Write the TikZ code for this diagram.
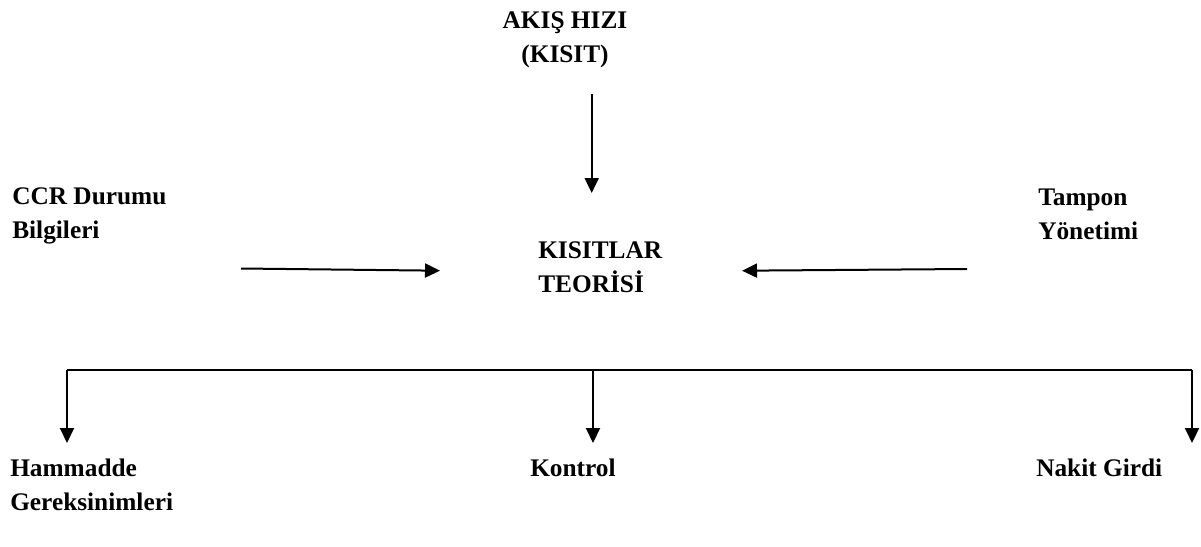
\documentclass[tikz,border=0pt]{standalone}
\usepackage{fontspec}
\setmainfont{Liberation Serif}
\usetikzlibrary{arrows.meta}
\newcommand{\mylines}[2][l]{\begin{tabular}[t]{@{}#1@{}}#2\end{tabular}}
\begin{document}
\begin{tikzpicture}[x=0.75pt,y=-0.75pt,
  lbl/.style={inner sep=0pt,font=\fontsize{19}{25.5}\selectfont\bfseries},
  conn/.style={line width=1.5pt,-{Triangle[length=11.25pt,width=10.5pt]}},
  bar/.style={line width=2pt}]
\useasboundingbox (0,0) rectangle (1201,546);
% texts
\node[lbl,anchor=base] (akis) at (565,28) {\mylines[c]{AKIŞ HIZI\\ (KISIT)}};
\node[lbl,anchor=base west] (toc) at (538,258) {\mylines{KISITLAR\\TEORİSİ}};
\node[lbl,anchor=base west] (ccr) at (12,204) {\mylines{CCR Durumu\\Bilgileri}};
\node[lbl,anchor=base west] (tampon) at (1038,205) {\mylines{Tampon\\Yönetimi}};
\node[lbl,anchor=base west] (ham) at (10,476) {\mylines{Hammadde\\Gereksinimleri}};
\node[lbl,anchor=base west] (kon) at (530,476) {Kontrol};
\node[lbl,anchor=base west] (nak) at (1036,476) {Nakit Girdi};
% connector points
\coordinate (topS) at (591.7,94);
\coordinate (topE) at (591.7,193);
\coordinate (lS) at (241,268.5);
\coordinate (lE) at (440,270.7);
\coordinate (rS) at (967,269);
\coordinate (rE) at (742,270.7);
\coordinate (bL) at (67,370);
\coordinate (bM) at (593,370);
\coordinate (bR) at (1192,370);
\coordinate (eL) at (67,443);
\coordinate (eM) at (593,443);
\coordinate (eR) at (1192,443);
% connectors
\draw[conn] (topS) -- (topE);
\draw[conn] (lS) -- (lE);
\draw[conn] (rS) -- (rE);
\draw[bar,line join=miter] (bL) -- (bR);
\draw[conn] (bL) -- (eL);
\draw[conn] (bM) -- (eM);
\draw[conn] (bR) -- (eR);
\end{tikzpicture}
\end{document}
